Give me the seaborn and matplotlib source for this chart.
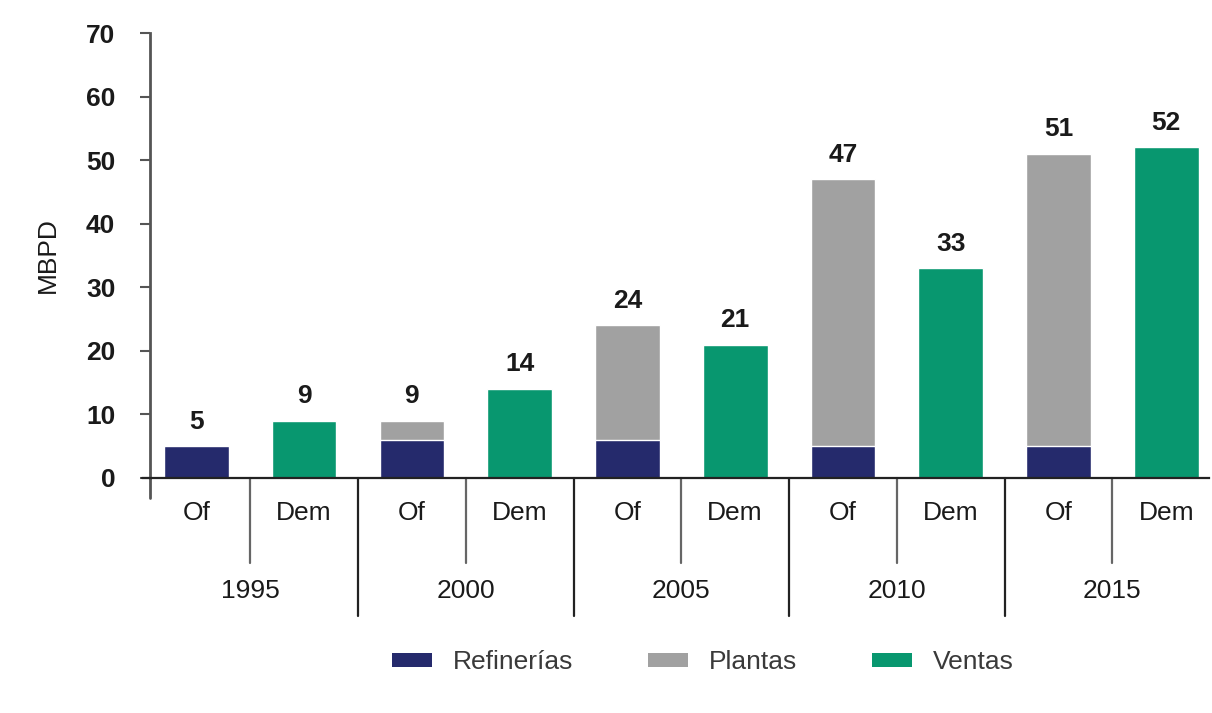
import matplotlib
matplotlib.use("Agg")
import matplotlib.pyplot as plt
import matplotlib.transforms as mtransforms
from matplotlib.patches import Patch
from matplotlib.lines import Line2D
import seaborn as sns
import pandas as pd

# Data (MBPD)
years = ["1995", "2000", "2005", "2010", "2015"]
kinds = ["Of", "Dem"]
refinerias = [5, 6, 6, 5, 5]
plantas = [0, 3, 18, 42, 46]
ventas = [9, 14, 21, 33, 52]
series_names = ["Refinerías", "Plantas", "Ventas"]
y_ticks = [0, 10, 20, 30, 40, 50, 60, 70]

col_ref = "#252a6c"
col_pla = "#a1a1a1"
col_ven = "#08976f"
txt = "#1a1a1a"

sns.set_theme(style="white")
plt.rcParams["font.family"] = ["Liberation Sans", "DejaVu Sans"]

slots = [f"{y} {k}" for y in years for k in kinds]
of_df = pd.DataFrame({
    "slot": [f"{y} Of" for y in years],
    "ref": refinerias,
    "total": [r + p for r, p in zip(refinerias, plantas)],
})
dem_df = pd.DataFrame({"slot": [f"{y} Dem" for y in years], "ventas": ventas})

fig = plt.figure(figsize=(12.12, 7.13), dpi=100)
ax = fig.add_axes([0.1238, 0.3296, 0.874, 0.6241])

sns.barplot(data=of_df, x="slot", y="total", order=slots, color=col_pla,
            width=0.6, saturation=1, ax=ax)
sns.barplot(data=of_df, x="slot", y="ref", order=slots, color=col_ref,
            width=0.6, saturation=1, ax=ax)
sns.barplot(data=dem_df, x="slot", y="ventas", order=slots, color=col_ven,
            width=0.6, saturation=1, ax=ax)

ax.set_ylim(0, 70)
ax.set_xlim(-0.43, 9.4)
ax.set_yticks(y_ticks)
ax.set_yticklabels([str(t) for t in y_ticks], fontsize=19, fontweight="bold",
                   color=txt)
ax.tick_params(axis="y", left=True, length=7, width=1.5, color="#555555", pad=18)
ax.set_xticks([])
ax.set_xlabel("")
ax.set_ylabel("MBPD", fontsize=19, color=txt, labelpad=19)

for s in ["top", "right"]:
    ax.spines[s].set_visible(False)
ax.spines["left"].set_color("#555555")
ax.spines["left"].set_linewidth(2)
ax.spines["bottom"].set_color("#222222")
ax.spines["bottom"].set_linewidth(1.6)

blend = mtransforms.blended_transform_factory(ax.transData, ax.transAxes)

# y axis runs a little below the baseline, baseline runs a little left
ax.add_line(Line2D([0, 0], [0, -0.045], transform=ax.transAxes,
                   color="#555555", lw=2, clip_on=False))
ax.add_line(Line2D([-0.008, 0], [0, 0], transform=ax.transAxes,
                   color="#222222", lw=1.6, clip_on=False))

# Value labels on top of each column
for i, y in enumerate(years):
    tot = refinerias[i] + plantas[i]
    ax.annotate(str(tot), (2 * i, tot), xytext=(0, 9), textcoords="offset points",
                ha="center", va="bottom", fontsize=19, fontweight="bold",
                color=txt)
    ax.annotate(str(ventas[i]), (2 * i + 1, ventas[i]), xytext=(0, 9),
                textcoords="offset points", ha="center", va="bottom",
                fontsize=19, fontweight="bold", color=txt)

# Two-level category axis
for i, y in enumerate(years):
    for j, k in enumerate(kinds):
        ax.text(2 * i + j, -0.052, k, transform=blend, ha="center", va="top",
                fontsize=19, color=txt)
    ax.text(2 * i + 0.5, -0.226, y, transform=blend, ha="center", va="top",
            fontsize=19, color=txt)
    # separator between Of and Dem
    ax.add_line(Line2D([2 * i + 0.5, 2 * i + 0.5], [0, -0.19], transform=blend,
                       color="#666666", lw=1.6, clip_on=False))
    # separator between years
    if i < len(years) - 1:
        ax.add_line(Line2D([2 * i + 1.5, 2 * i + 1.5], [0, -0.31], transform=blend,
                           color="#222222", lw=1.6, clip_on=False))

handles = [Patch(facecolor=c, edgecolor="none") for c in (col_ref, col_pla, col_ven)]
leg = fig.legend(handles, series_names, loc="center", bbox_to_anchor=(0.58, 0.071),
                 ncol=3, frameon=False, fontsize=19, handlelength=1.5,
                 handleheight=0.45, handletextpad=0.8, columnspacing=2.85)
for t in leg.get_texts():
    t.set_color("#3a3a3a")

fig.savefig("out.png", dpi=100, facecolor="white")
